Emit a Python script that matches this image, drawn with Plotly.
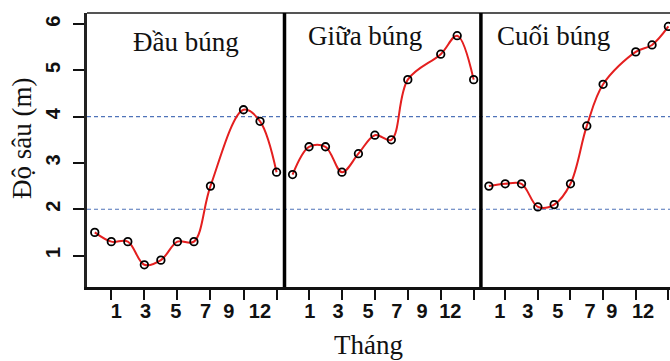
import plotly.graph_objects as go
from plotly.subplots import make_subplots

# ---- data ----
sample_pos = [0, 1, 2, 3, 4, 5, 6, 7, 9, 10, 11]
dau_bung = [1.5, 1.3, 1.3, 0.8, 0.9, 1.3, 1.3, 2.5, 4.15, 3.9, 2.8]
giua_bung = [2.75, 3.35, 3.35, 2.8, 3.2, 3.6, 3.5, 4.8, 5.35, 5.75, 4.8]
cuoi_bung = [2.5, 2.55, 2.55, 2.05, 2.1, 2.55, 3.8, 4.7, 5.4, 5.55, 5.95]
panel_titles = ["Đầu búng", "Giữa búng", "Cuối búng"]
x_ticks = [1, 3, 5, 7, 9, 11]
x_ticktext = ["1", "3", "5", "7", "9", "12"]
y_ticks = [1, 2, 3, 4, 5, 6]
ref_levels = [2, 4]

# ---- layout constants ----
W, H = 670, 361
L, R, T, B = 87.3, 0, 13.3, 73.7
PW = W - L - R
PH = H - T - B
def px(x):
    return (x - L) / PW
def py(y):
    return (H - B - y) / PH

sep1, sep2 = px(284.7), px(481.0)
domains = [[0, sep1], [sep1, sep2], [sep2, 1]]
ranges = [[-0.47, 11.48], [-0.49, 11.44], [-0.49, 11.1]]
label_pos = [
    [1.31, 3.07, 4.9, 6.7, 8.11, 9.99],
    [1.05, 2.76, 4.59, 6.33, 7.86, 9.58],
    [0.67, 2.39, 4.23, 6.2, 7.53, 9.45],
]
title_xy = [(186, 42.5), (365.3, 36), (553.3, 36)]

RED = "#e41f1f"
tick_font = dict(family="Liberation Sans", size=20, color="#111", weight="bold")
serif = dict(family="Liberation Serif", size=27, color="#111")

fig = make_subplots(rows=1, cols=3, shared_yaxes=True, horizontal_spacing=0)

for i, ys in enumerate([dau_bung, giua_bung, cuoi_bung]):
    fig.add_trace(go.Scatter(
        x=sample_pos, y=ys, mode="lines+markers",
        line=dict(color=RED, width=2, shape="spline", smoothing=1.0),
        marker=dict(symbol="circle-open", size=7.5, color="black", line=dict(width=1.8)),
        showlegend=False, cliponaxis=False,
    ), row=1, col=i + 1)
    axname = "xaxis" if i == 0 else f"xaxis{i+1}"
    fig.layout[axname].update(
        domain=domains[i], range=ranges[i],
        tickmode="array", tickvals=label_pos[i], ticktext=x_ticktext,
        ticks="", ticklen=0, tickfont=tick_font, ticklabelstandoff=4,
        minor=dict(ticks="outside", tickmode="array", tickvals=x_ticks,
                   ticklen=10, tickwidth=2, tickcolor="#111", showgrid=False),
        showgrid=False, zeroline=False,
        showline=True, linecolor="#111", linewidth=2.5,
        fixedrange=True,
    )
    tx, ty = title_xy[i]
    fig.add_annotation(x=px(tx), y=py(ty), xref="paper", yref="paper",
                       text=panel_titles[i], showarrow=False, font=serif,
                       xanchor="center", yanchor="middle")

fig.update_yaxes(range=[0.32, 6.24], showgrid=False, zeroline=False, fixedrange=True)
fig.layout.yaxis.update(
    tickmode="array", tickvals=y_ticks, ticks="outside", ticklen=11, tickwidth=2,
    tickcolor="#111", tickangle=-90, ticklabelstandoff=5,
    tickfont=dict(family="Liberation Sans", size=20, color="#111", weight="bold"),
    showline=True, linecolor="#222", linewidth=2.5,
)
for ax in ["yaxis2", "yaxis3"]:
    fig.layout[ax].update(showticklabels=False, ticks="")

# reference dashed levels
for lv in ref_levels:
    fig.add_shape(type="line", xref="paper", yref="y", x0=0, x1=1, y0=lv, y1=lv,
                  line=dict(color="#4f73b9", width=1.2, dash="4px,3px"), layer="below")

# top border and panel separators
fig.add_shape(type="line", xref="paper", yref="paper", x0=0, x1=1, y0=1, y1=1,
              line=dict(color="#555", width=2))
for s in [sep1, sep2]:
    fig.add_shape(type="line", xref="paper", yref="paper", x0=s, x1=s, y0=0, y1=1,
                  line=dict(color="#000", width=3.5))

# axis titles
fig.add_annotation(x=px(369), y=py(345), xref="paper", yref="paper", text="Tháng",
                   showarrow=False, font=serif, xanchor="center", yanchor="middle")
fig.add_annotation(x=px(21.7), y=py(139), xref="paper", yref="paper", text="Độ sâu (m)",
                   showarrow=False, font=serif, textangle=-90,
                   xanchor="center", yanchor="middle")

fig.update_layout(
    width=W, height=H, margin=dict(l=L, r=R, t=T, b=B),
    paper_bgcolor="white", plot_bgcolor="white",
)

fig.write_html("out.html")
